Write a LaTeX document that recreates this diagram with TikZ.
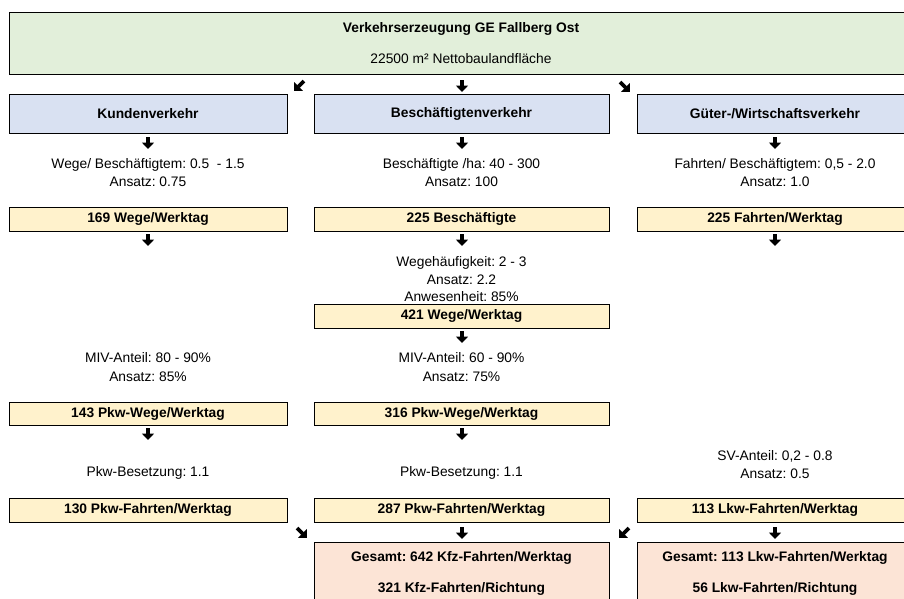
\documentclass[tikz,border=0pt]{standalone}
\usepackage{fontspec}
\setmainfont{Liberation Sans}
\usetikzlibrary{arrows.meta}
\definecolor{boxgreen}{HTML}{E2EFDA}
\definecolor{boxblue}{HTML}{D9E1F2}
\definecolor{boxyellow}{HTML}{FFF2CC}
\definecolor{boxpink}{HTML}{FCE4D6}
\frenchspacing
\begin{document}
\begin{tikzpicture}[x=1pt,y=-1pt,
  box/.style={draw=black, line width=0.9pt, inner sep=0pt, align=center,
    font=\fontsize{13.8}{31}\selectfont\bfseries},
  greenbox/.style={box, fill=boxgreen},
  bluebox/.style={box, fill=boxblue},
  yellowbox/.style={box, fill=boxyellow},
  pinkbox/.style={box, fill=boxpink},
  note/.style={align=center, inner sep=0pt, font=\fontsize{13.8}{18.5}\selectfont},
  glyph/.style={-{Triangle[width=12pt,length=6.5pt]}, line width=3.8pt, black}]
\useasboundingbox (0,0) rectangle (904,598);
\clip (0,0) rectangle (904,598);
\fill[white] (0,0) rectangle (904,598);

% top box
\node[greenbox, minimum width=904pt, minimum height=62pt] (top) at (461,43)
  {Verkehrserzeugung GE Fallberg Ost\\\mdseries 22500 m² Nettobaulandfläche};

% category boxes
\node[bluebox, minimum width=278pt, minimum height=39pt] (kv) at (148,113.5) {Kundenverkehr};
\node[bluebox, minimum width=295pt, minimum height=39pt] (bv) at (461.5,113.5) {Beschäftigtenverkehr};
\node[bluebox, minimum width=276pt, minimum height=39pt] (gv) at (775,113.5) {Güter-/Wirtschaftsverkehr};

% first notes
\node[note] (kn1) at (148,172.5) {Wege/ Beschäftigtem: 0.5 \ - 1.5\\Ansatz: 0.75};
\node[note] (bn1) at (461.5,172.5) {Beschäftigte /ha: 40 - 300\\Ansatz: 100};
\node[note] (gn1) at (775,172.5) {Fahrten/ Beschäftigtem: 0,5 - 2.0\\Ansatz: 1.0};

% first yellow row
\node[yellowbox, minimum width=278pt, minimum height=24pt] (k1) at (148,219) {169 Wege/Werktag};
\node[yellowbox, minimum width=295pt, minimum height=24pt] (b1) at (461.5,219) {225 Beschäftigte};
\node[yellowbox, minimum width=276pt, minimum height=24pt] (g1) at (775,219) {225 Fahrten/Werktag};

% middle chain
\node[note, font=\fontsize{13.8}{17.5}\selectfont] (bn2) at (461.5,279.5) {Wegehäufigkeit: 2 - 3\\Ansatz: 2.2\\Anwesenheit: 85\%};
\node[yellowbox, minimum width=295pt, minimum height=24pt] (b2) at (461.5,316) {421 Wege/Werktag};

\node[note, font=\fontsize{13.8}{19}\selectfont] (kn2) at (148,367.5) {MIV-Anteil: 80 - 90\%\\Ansatz: 85\%};
\node[note, font=\fontsize{13.8}{19}\selectfont] (bn3) at (461.5,367.5) {MIV-Anteil: 60 - 90\%\\Ansatz: 75\%};

\node[yellowbox, minimum width=278pt, minimum height=23pt] (k2) at (148,413.5) {143 Pkw-Wege/Werktag};
\node[yellowbox, minimum width=295pt, minimum height=23pt] (b3) at (461.5,413.5) {316 Pkw-Wege/Werktag};

\node[note] (kn3) at (148,473) {Pkw-Besetzung: 1.1};
\node[note] (bn4) at (461.5,473) {Pkw-Besetzung: 1.1};
\node[note, font=\fontsize{13.8}{18}\selectfont] (gn2) at (775,465) {SV-Anteil: 0,2 - 0.8\\Ansatz: 0.5};

\node[yellowbox, minimum width=278pt, minimum height=24pt] (k3) at (148,510) {130 Pkw-Fahrten/Werktag};
\node[yellowbox, minimum width=295pt, minimum height=24pt] (b4) at (461.5,510) {287 Pkw-Fahrten/Werktag};
\node[yellowbox, minimum width=276pt, minimum height=24pt] (g2) at (775,510) {113 Lkw-Fahrten/Werktag};

% totals
\node[pinkbox, minimum width=295pt, minimum height=62pt] (tot) at (461.5,573)
  {Gesamt: 642 Kfz-Fahrten/Werktag\\321 Kfz-Fahrten/Richtung};
\node[pinkbox, minimum width=276pt, minimum height=62pt] (lkw) at (775,573)
  {Gesamt: 113 Lkw-Fahrten/Werktag\\56 Lkw-Fahrten/Richtung};

% arrow glyphs
\foreach \n/\x/\y/\dx/\dy in {
   a1/299/86/-5/5, a2/462/86/0/6, a3/625/87/5/5,
   a4/148/143/0/6, a5/462/143/0/6, a6/775/143/0/6,
   a7/148/240/0/6, a8/462/240/0/6, a9/775/240/0/6,
   a10/462/337/0/6, a11/148/434/0/6, a12/462/434/0/6,
   a13/302/533/5/5, a14/462/533/0/6, a15/624/533/-5/5, a16/775/533/0/6} {
  \coordinate (\n s) at (\x-\dx,\y-\dy);
  \coordinate (\n e) at (\x+\dx,\y+\dy);
  \draw[glyph] (\n s) -- (\n e);
}
\end{tikzpicture}
\end{document}
